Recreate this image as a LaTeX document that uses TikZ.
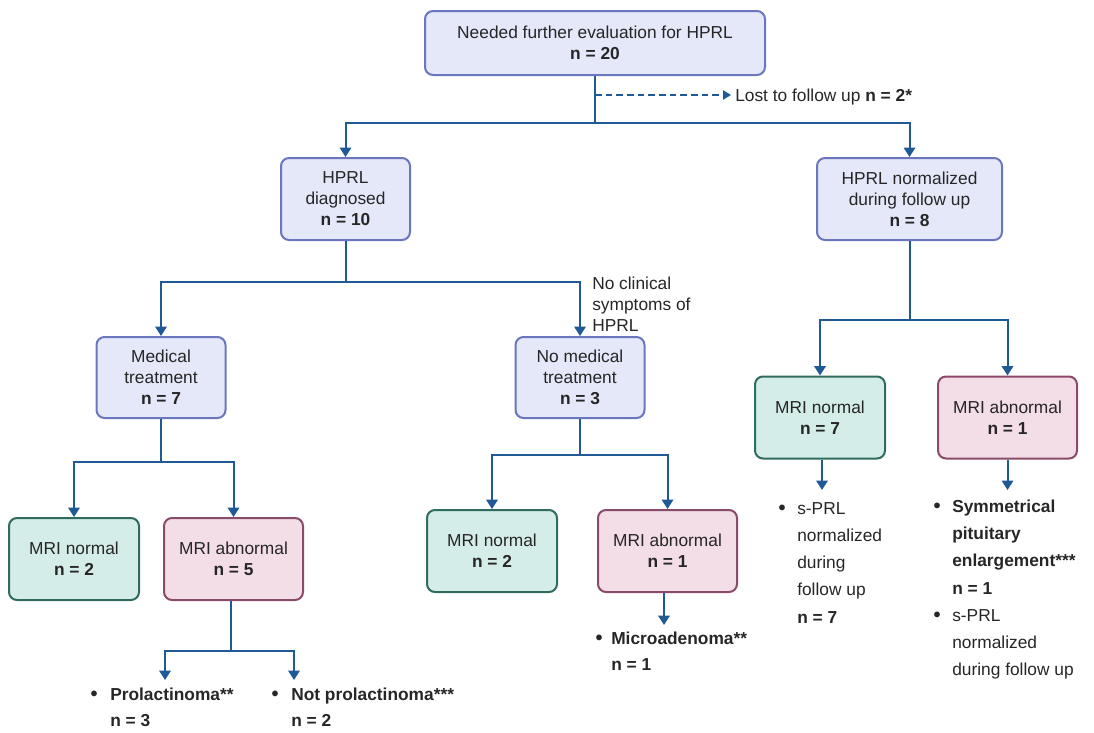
\documentclass[tikz,border=0pt]{standalone}
\usepackage{fontspec}
\setmainfont{Liberation Sans}
\usetikzlibrary{arrows.meta}

\definecolor{linkblue}{HTML}{1F5A96}
\definecolor{bluefill}{HTML}{E4E8F9}
\definecolor{blueline}{HTML}{6A76BE}
\definecolor{greenfill}{HTML}{D5EDE8}
\definecolor{greenline}{HTML}{2F6B5F}
\definecolor{pinkfill}{HTML}{F3DDE7}
\definecolor{pinkline}{HTML}{8A4A6A}

\newcommand\boxfont{\fontsize{13}{15.75}\selectfont}
\newcommand\listfont{\fontsize{13}{19.5}\selectfont}
\newcommand\listfontwide{\fontsize{13}{20.4}\selectfont}
\newcommand\dotfont{\fontsize{15}{15}\selectfont\bfseries}

\begin{document}
\begin{tikzpicture}[x=0.75pt,y=-0.75pt,
  box/.style={draw, rounded corners=6pt, line width=1.5pt, align=center,
              inner sep=0pt, font=\boxfont, text=black!85},
  bluebox/.style={box, draw=blueline, fill=bluefill},
  greenbox/.style={box, draw=greenline, fill=greenfill},
  pinkbox/.style={box, draw=pinkline, fill=pinkfill},
  link/.style={draw=linkblue, line width=1.5pt},
  arr/.style={link, -{Triangle[length=7pt,width=8.5pt]}},
  dasharr/.style={draw=linkblue, line width=1.2pt, dash pattern=on 5pt off 3pt,
                  -{Triangle[length=6pt,width=7pt]}},
  note/.style={inner sep=0pt, anchor=base west, align=left, text=black!85},
  dot/.style={inner sep=0pt, anchor=base, font=\dotfont, text=black!85},
]
\useasboundingbox (0,0) rectangle (1094,732);

% boxes
\node[bluebox, minimum width=255pt, minimum height=48pt] (top) at (595,43)
  {Needed further evaluation for HPRL\\ \textbf{n = 20}};
\node[bluebox, minimum width=96.75pt, minimum height=61.5pt] (hd) at (345.5,199)
  {HPRL\\ diagnosed\\ \textbf{n = 10}};
\node[bluebox, minimum width=138.75pt, minimum height=61.5pt] (hn) at (909.5,199)
  {HPRL normalized\\ during follow up\\ \textbf{n = 8}};
\node[bluebox, minimum width=96.75pt, minimum height=60.75pt] (mt) at (161,377.5)
  {Medical\\ treatment\\ \textbf{n = 7}};
\node[bluebox, minimum width=96.75pt, minimum height=60.75pt] (nm) at (580,377.5)
  {No medical\\ treatment\\ \textbf{n = 3}};

\node[greenbox, minimum width=97.5pt, minimum height=61.5pt] (mrnA) at (74,559)
  {MRI normal\\ \textbf{n = 2}};
\node[pinkbox, minimum width=104.25pt, minimum height=61.5pt] (mraA) at (233.5,559)
  {MRI abnormal\\ \textbf{n = 5}};
\node[greenbox, minimum width=97.5pt, minimum height=61.5pt] (mrnB) at (492,551)
  {MRI normal\\ \textbf{n = 2}};
\node[pinkbox, minimum width=104.25pt, minimum height=61.5pt] (mraB) at (667.5,551)
  {MRI abnormal\\ \textbf{n = 1}};
\node[greenbox, minimum width=97.5pt, minimum height=61.5pt] (mrnC) at (820,417.5)
  {MRI normal\\ \textbf{n = 7}};
\node[pinkbox, minimum width=104.25pt, minimum height=61.5pt] (mraC) at (1007.5,417.5)
  {MRI abnormal\\ \textbf{n = 1}};

% side notes (multi-line notes are placed by the baseline of their last line)
\node[note, font=\boxfont] (lost) at (735,101) {Lost to follow up \textbf{n = 2*}};
\node[note, font=\boxfont] (nosym) at (592,331) {No clinical\\ symptoms of\\ HPRL};

% bullet lists
\node[dot] (bA) at (94,700) {•};
\node[note, font=\listfont] (prol) at (110,726) {\textbf{Prolactinoma**}\\ \textbf{n = 3}};
\node[dot] (bB) at (275,700) {•};
\node[note, font=\listfont] (notprol) at (291,726) {\textbf{Not prolactinoma***}\\ \textbf{n = 2}};
\node[dot] (bC) at (599,644) {•};
\node[note, font=\listfont] (micro) at (611,670) {\textbf{Microadenoma**}\\ \textbf{n = 1}};
\node[dot] (bD) at (782,514) {•};
\node[note, font=\listfontwide] (sprlA) at (797,623)
  {s-PRL\\ normalized\\ during\\ follow up\\ \textbf{n = 7}};
\node[dot] (bE) at (937,512) {•};
\node[note, font=\listfontwide] (sym) at (952,594)
  {\textbf{Symmetrical}\\ \textbf{pituitary}\\ \textbf{enlargement***}\\ \textbf{n = 1}};
\node[dot] (bF) at (937,621) {•};
\node[note, font=\listfontwide] (sprlB) at (952,675.5)
  {s-PRL\\ normalized\\ during follow up};

% junction points and free arrow ends
\coordinate (jLost) at (595,95);
\coordinate (jTop) at (595,123);
\coordinate (jHd) at (345.5,282);
\coordinate (jMt) at (161,462);
\coordinate (jMraA) at (231,651);
\coordinate (endProl) at (165,680);
\coordinate (endNot) at (294,680);
\coordinate (jNm) at (580,455);
\coordinate (endMicro) at (664,625);
\coordinate (jHn) at (909.5,320);
\coordinate (endSprl) at (822,490);
\coordinate (endSym) at (1007.5,490);

% connectors
\draw[link] (top.south) -- (jTop);
\draw[dasharr] (jLost) -- ([xshift=-3pt]lost.west |- jLost);
\draw[arr] (jTop) -| (hd.north);
\draw[arr] (jTop) -| (hn.north);

\draw[link] (hd.south) -- (jHd);
\draw[arr] (jHd) -| (mt.north);
\draw[arr] (jHd) -| (nm.north);

\draw[link] (mt.south) -- (jMt);
\draw[arr] (jMt) -| (mrnA.north);
\draw[arr] (jMt) -| (mraA.north);

\draw[link] (mraA.south -| jMraA) -- (jMraA);
\draw[arr] (jMraA) -| (endProl);
\draw[arr] (jMraA) -| (endNot);

\draw[link] (nm.south) -- (jNm);
\draw[arr] (jNm) -| (mrnB.north);
\draw[arr] (jNm) -| (mraB.north);
\draw[arr] (mraB.south -| endMicro) -- (endMicro);

\draw[link] (hn.south) -- (jHn);
\draw[arr] (jHn) -| (mrnC.north);
\draw[arr] (jHn) -| (mraC.north);
\draw[arr] (mrnC.south -| endSprl) -- (endSprl);
\draw[arr] (mraC.south) -- (endSym);
\end{tikzpicture}
\end{document}
